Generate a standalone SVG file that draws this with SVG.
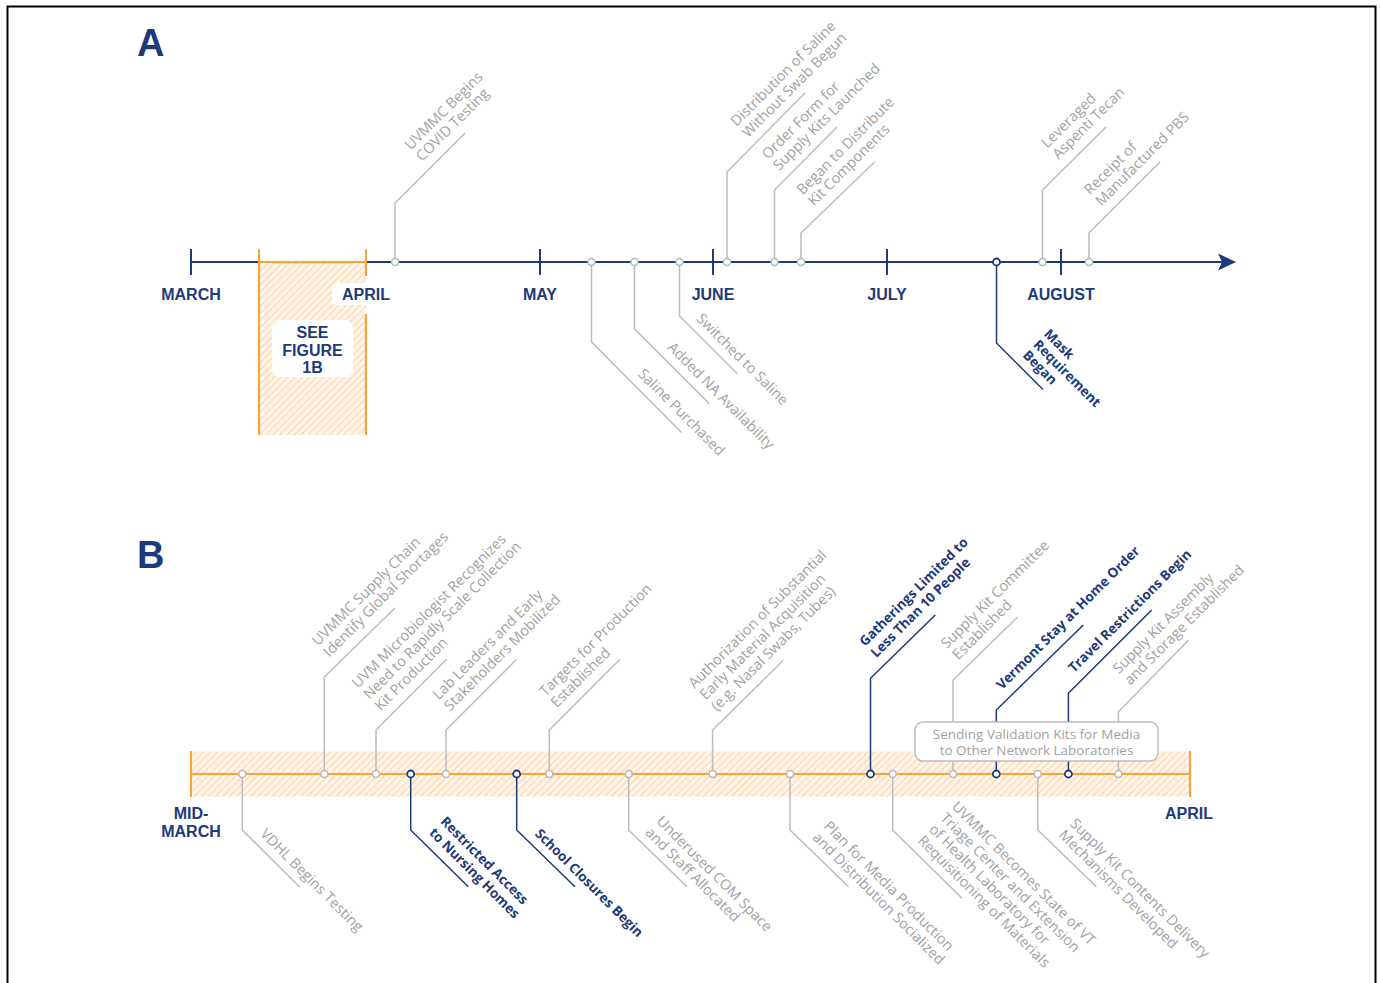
<svg xmlns="http://www.w3.org/2000/svg" width="1380" height="983" viewBox="0 0 1380 983">
<defs>
<pattern id="hatch" patternUnits="userSpaceOnUse" width="5" height="5" patternTransform="rotate(45)">
<rect width="5" height="5" fill="#fff3e6"/>
<line x1="0" y1="0" x2="0" y2="5" stroke="#f9d0a0" stroke-width="1.7"/>
</pattern>
</defs>
<style>
.ax{stroke:#1d3a7b;stroke-width:2;fill:none}
.or{stroke:#f9a23a;stroke-width:2;fill:none}
.gl{stroke:#bcbcbc;stroke-width:1.5;fill:none}
.nl{stroke:#1d3a7b;stroke-width:1.5;fill:none}
.gc{fill:#fff;stroke:#b8b8b8;stroke-width:1.5}
.nc{fill:#fff;stroke:#1d3a7b;stroke-width:1.8}
.gt{font-family:"Open Sans",sans-serif;font-size:14.5px;fill:#a2a2a2}
.nt{font-family:"Open Sans",sans-serif;font-size:13.5px;font-weight:700;fill:#1d3a7b}
.mt{font-family:"Liberation Sans",Arial,sans-serif;font-size:16px;font-weight:700;fill:#1d3a7b;text-anchor:middle}
.pl{font-family:"Liberation Sans",Arial,sans-serif;font-size:38px;font-weight:700;fill:#1d3a7b}
.bt{font-family:"Open Sans",sans-serif;font-size:13.5px;fill:#a2a2a2;text-anchor:middle}
</style>
<path d="M7.5,983 V6.5 H1375.5 V983" fill="none" stroke="#000" stroke-width="2"/>

<g id="panel-a">
<text class="pl" x="137" y="56">A</text>
<rect x="259" y="262" width="107" height="173" fill="url(#hatch)"/>
<line class="ax" x1="191" y1="262" x2="1222" y2="262"/>
<polygon points="1236,262 1218,253.5 1222,262 1218,270.5" fill="#1d3a7b"/>
<path class="ax" d="M191,249V275 M540,249V275 M713,249V275 M887,249V275 M1061,249V275"/>
<path class="or" d="M259,249V435 M366,249V276 M366,314V435 M259,262H366"/>
<rect x="332" y="283" width="63" height="22" rx="4" fill="#fff"/>
<text class="mt" x="191" y="300">MARCH</text>
<text class="mt" x="366" y="300">APRIL</text>
<text class="mt" x="540" y="300">MAY</text>
<text class="mt" x="713" y="300">JUNE</text>
<text class="mt" x="887" y="300">JULY</text>
<text class="mt" x="1061" y="300">AUGUST</text>
</g>
<g id="see-figure-1b">
<rect x="272" y="320" width="81" height="57" rx="8" fill="#fff"/>
<text class="mt" x="312.5" y="338">SEE</text>
<text class="mt" x="312.5" y="355.5">FIGURE</text>
<text class="mt" x="312.5" y="372.5">1B</text>
</g>

<g id="panel-b">
<text class="pl" x="137" y="568">B</text>
<rect x="191" y="751.5" width="999" height="45" fill="url(#hatch)"/>
<path class="or" d="M191,774H1190 M191,751V797 M1190,751V797"/>
<text class="mt" x="191" y="819">MID-</text>
<text class="mt" x="191" y="836.5">MARCH</text>
<text class="mt" x="1189" y="819">APRIL</text>
</g>

<g id="connectors">
<path class="gl" d="M395,262V203L465,133"/>
<path class="gl" d="M727,262V172L805,93"/>
<path class="gl" d="M774.5,262V190L837,127"/>
<path class="gl" d="M801,262V233L874.5,162"/>
<path class="gl" d="M1042.5,262V190L1106,127"/>
<path class="gl" d="M1089,262V233L1160,162"/>
<path class="gl" d="M591.5,262V342L681.5,432.5"/>
<path class="gl" d="M634.5,262V329L709.5,404"/>
<path class="gl" d="M679.5,262V316L737.5,374"/>
<path class="nl" d="M996.5,262V343L1043,389.5"/>

<path class="gl" d="M324.3,774V677L395,608"/>
<path class="gl" d="M376,774V730L446.7,659.3"/>
<path class="gl" d="M446,774V730L516.7,659.3"/>
<path class="gl" d="M549.3,774V730L620,659.3"/>
<path class="gl" d="M712.6,774V730L783.6,660"/>
<path class="nl" d="M870.5,774V678.3L935.3,615"/>
<path class="gl" d="M953,774V680L1017.4,617.3"/>
<path class="nl" d="M996.3,774V710L1083.3,625"/>
<path class="nl" d="M1068.4,774V693.3L1151.7,610"/>
<path class="gl" d="M1118.4,774V711.7L1188.7,640"/>
<path class="gl" d="M242.3,774V830L300,887.3"/>
<path class="nl" d="M410.7,774V830L468.3,886.7"/>
<path class="nl" d="M516.7,774V830L575,886.7"/>
<path class="gl" d="M628.7,774V830L687,886.7"/>
<path class="gl" d="M790,774V830L848.5,886.7"/>
<path class="gl" d="M892.7,774V830L962,898.3"/>
<path class="gl" d="M1037.8,774V830L1096.3,886.7"/>
</g>

<g id="a-uvmmc-begins"><circle class="gc" cx="395" cy="262" r="3.5"/>
<text class="gt" transform="translate(410.7,150.7) rotate(-45)"><tspan x="0" y="0">UVMMC Begins</tspan><tspan x="0" y="16">COVID Testing</tspan></text></g>
<g id="a-distribution"><circle class="gc" cx="727" cy="262" r="3.5"/>
<text class="gt" transform="translate(736.6,127) rotate(-45)"><tspan x="0" y="0">Distribution of Saline</tspan><tspan x="0" y="16">Without Swab Begun</tspan></text></g>
<g id="a-order-form"><circle class="gc" cx="774.5" cy="262" r="3.5"/>
<text class="gt" transform="translate(767.9,159.9) rotate(-45)"><tspan x="0" y="0">Order Form for</tspan><tspan x="0" y="16">Supply Kits Launched</tspan></text></g>
<g id="a-began-distribute"><circle class="gc" cx="801" cy="262" r="3.5"/>
<text class="gt" transform="translate(802.7,195.4) rotate(-45)"><tspan x="0" y="0">Began to Distribute</tspan><tspan x="0" y="16">Kit Components</tspan></text></g>
<g id="a-leveraged"><circle class="gc" cx="1042.5" cy="262" r="3.5"/>
<text class="gt" transform="translate(1047.3,148.7) rotate(-45)"><tspan x="0" y="0">Leveraged</tspan><tspan x="0" y="16">Aspenti Tecan</tspan></text></g>
<g id="a-receipt"><circle class="gc" cx="1089" cy="262" r="3.5"/>
<text class="gt" transform="translate(1090.1,195.4) rotate(-45)"><tspan x="0" y="0">Receipt of</tspan><tspan x="0" y="16">Manufactured PBS</tspan></text></g>
<g id="a-saline-purchased"><circle class="gc" cx="591.5" cy="262" r="3.5"/>
<text class="gt" transform="translate(637.2,374.8) rotate(45)">Saline Purchased</text></g>
<g id="a-added-na"><circle class="gc" cx="634.5" cy="262" r="3.5"/>
<text class="gt" transform="translate(666.7,348.3) rotate(45)">Added NA Availability</text></g>
<g id="a-switched"><circle class="gc" cx="679.5" cy="262" r="3.5"/>
<text class="gt" transform="translate(695.6,319.4) rotate(45)">Switched to Saline</text></g>
<g id="a-mask"><circle class="nc" cx="996.5" cy="262" r="3.5"/>
<text class="nt" transform="translate(1043.2,334.8) rotate(45)"><tspan x="0" y="0">Mask</tspan><tspan x="0" y="15">Requirement</tspan><tspan x="0" y="30">Began</tspan></text></g>

<g id="b-supply-chain"><circle class="gc" cx="324.3" cy="774" r="3.5"/>
<text class="gt" transform="translate(318,646.4) rotate(-45)"><tspan x="0" y="0">UVMMC Supply Chain</tspan><tspan x="0" y="16">Identify Global Shortages</tspan></text></g>
<g id="b-microbiologist"><circle class="gc" cx="376" cy="774" r="3.5"/>
<text class="gt" transform="translate(358.1,688.8) rotate(-45)"><tspan x="0" y="0">UVM Microbiologist Recognizes</tspan><tspan x="0" y="16">Need to Rapidly Scale Collection</tspan><tspan x="0" y="32">Kit Production</tspan></text></g>
<g id="b-lab-leaders"><circle class="gc" cx="446" cy="774" r="3.5"/>
<text class="gt" transform="translate(438.7,700.4) rotate(-45)"><tspan x="0" y="0">Lab Leaders and Early</tspan><tspan x="0" y="16">Stakeholders Mobilized</tspan></text></g>
<g id="b-targets"><circle class="gc" cx="549.3" cy="774" r="3.5"/>
<text class="gt" transform="translate(545.4,697) rotate(-45)"><tspan x="0" y="0">Targets for Production</tspan><tspan x="0" y="16">Established</tspan></text></g>
<g id="b-authorization"><circle class="gc" cx="712.6" cy="774" r="3.5"/>
<text class="gt" transform="translate(694.4,689.1) rotate(-45)"><tspan x="0" y="0">Authorization of Substantial</tspan><tspan x="0" y="16">Early Material Acquisition</tspan><tspan x="0" y="32">(e.g. Nasal Swabs, Tubes)</tspan></text></g>
<g id="b-gatherings"><circle class="nc" cx="870.5" cy="774" r="3.5"/>
<text class="nt" transform="translate(865,647) rotate(-45)"><tspan x="0" y="0">Gatherings Limited to</tspan><tspan x="0" y="16">Less Than 10 People</tspan></text></g>
<g id="b-committee"><circle class="gc" cx="953" cy="774" r="3.5"/>
<text class="gt" transform="translate(946.9,649.3) rotate(-45)"><tspan x="0" y="0">Supply Kit Committee</tspan><tspan x="0" y="16">Established</tspan></text></g>
<g id="b-vermont"><circle class="nc" cx="996.3" cy="774" r="3.5"/>
<text class="nt" transform="translate(1002,690.3) rotate(-45)">Vermont Stay at Home Order</text></g>
<g id="b-travel"><circle class="nc" cx="1068.4" cy="774" r="3.5"/>
<text class="nt" transform="translate(1074,673.3) rotate(-45)">Travel Restrictions Begin</text></g>
<g id="b-assembly"><circle class="gc" cx="1118.4" cy="774" r="3.5"/>
<text class="gt" transform="translate(1118.9,674.4) rotate(-45)"><tspan x="0" y="0">Supply Kit Assembly</tspan><tspan x="0" y="16">and Storage Established</tspan></text></g>
<g id="b-sending">
<rect x="915" y="722" width="243" height="39" rx="8" fill="#fff" stroke="#bdbdbd" stroke-width="1.5"/>
<text class="bt" x="1036.5" y="738.5">Sending Validation Kits for Media</text>
<text class="bt" x="1036.5" y="754.5">to Other Network Laboratories</text>
</g>
<g id="b-vdhl"><circle class="gc" cx="242.3" cy="774" r="3.5"/>
<text class="gt" transform="translate(259.4,834.6) rotate(45)">VDHL Begins Testing</text></g>
<g id="b-restricted"><circle class="nc" cx="410.7" cy="774" r="3.5"/>
<text class="nt" transform="translate(439.7,822.3) rotate(45)"><tspan x="0" y="0">Restricted Access</tspan><tspan x="0" y="16">to Nursing Homes</tspan></text></g>
<g id="b-school"><circle class="nc" cx="516.7" cy="774" r="3.5"/>
<text class="nt" transform="translate(534.2,834.5) rotate(45)">School Closures Begin</text></g>
<g id="b-underused"><circle class="gc" cx="628.7" cy="774" r="3.5"/>
<text class="gt" transform="translate(655.8,822) rotate(45)"><tspan x="0" y="0">Underused COM Space</tspan><tspan x="0" y="16">and Staff Allocated</tspan></text></g>
<g id="b-plan-media"><circle class="gc" cx="790" cy="774" r="3.5"/>
<text class="gt" transform="translate(823,827) rotate(45)"><tspan x="0" y="0">Plan for Media Production</tspan><tspan x="0" y="16">and Distribution Socialized</tspan></text></g>
<g id="b-triage"><circle class="gc" cx="892.7" cy="774" r="3.5"/>
<text class="gt" transform="translate(950.9,807.5) rotate(45)"><tspan x="0" y="0">UVMMC Becomes State of VT</tspan><tspan x="0" y="16">Triage Center and Extension</tspan><tspan x="0" y="32">of Health Laboratory for</tspan><tspan x="0" y="48">Requisitioning of Materials</tspan></text></g>
<g id="b-delivery"><circle class="gc" cx="1037.8" cy="774" r="3.5"/>
<text class="gt" transform="translate(1069.3,824.4) rotate(45)"><tspan x="0" y="0">Supply Kit Contents Delivery</tspan><tspan x="0" y="16">Mechanisms Developed</tspan></text></g>
</svg>
